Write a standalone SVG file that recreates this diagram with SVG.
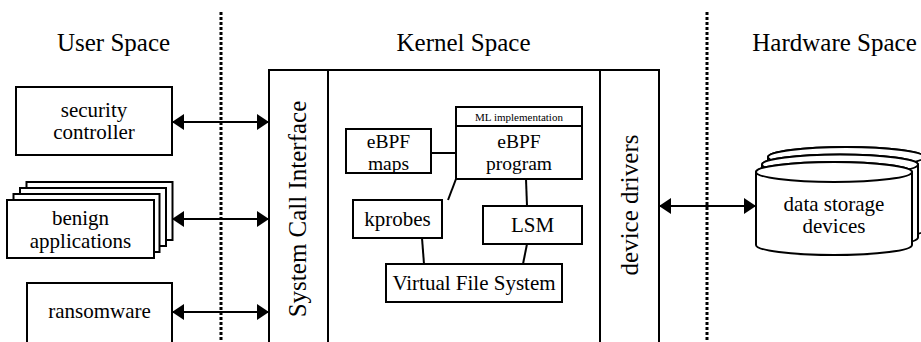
<svg xmlns="http://www.w3.org/2000/svg" width="921" height="342" viewBox="0 0 921 342">
<style>
  text { font-family: "Liberation Serif", "Tinos", "Times New Roman", "DejaVu Serif", serif; fill: #000; }
  .hdr { font-size: 25px; text-anchor: middle; }
  .lbl { font-size: 21px; text-anchor: middle; }
  .tight { font-size: 19.5px; text-anchor: middle; }
  .big { font-size: 25px; text-anchor: middle; }
  .small { font-size: 11px; text-anchor: middle; }
  .box { fill: #fff; stroke: #000; stroke-width: 2; }
  .dot { stroke: #000; stroke-width: 3; stroke-dasharray: 3 2; fill: none; }
  .conn { stroke: #000; stroke-width: 2; fill: none; }
</style>
<defs>
  <marker id="ah" markerWidth="12" markerHeight="16" refX="12" refY="8" orient="auto-start-reverse" markerUnits="userSpaceOnUse">
    <path d="M0,0 L12,8 L0,16 Z" fill="#000"/>
  </marker>
</defs>
<rect width="921" height="342" fill="#fff"/>

<g id="headers">
  <text class="hdr" x="113.5" y="51">User Space</text>
  <text class="hdr" x="463.5" y="51">Kernel Space</text>
  <text class="hdr" x="834.5" y="51">Hardware Space</text>
</g>

<g id="separators">
  <line class="dot" x1="221" y1="12" x2="221" y2="342"/>
  <line class="dot" x1="707" y1="12" x2="707" y2="342"/>
</g>

<g id="security-controller">
  <rect class="box" x="16" y="87" width="156" height="68"/>
  <text class="lbl" x="94" y="117">security</text>
  <text class="lbl" x="94" y="139">controller</text>
</g>

<g id="benign-applications">
  <rect class="box" x="26.5" y="182" width="146" height="58"/>
  <rect class="box" x="20" y="188" width="146" height="58"/>
  <rect class="box" x="13.5" y="194" width="146" height="58"/>
  <rect class="box" x="7" y="200" width="147" height="58"/>
  <text class="lbl" x="80.5" y="225">benign</text>
  <text class="lbl" x="80.5" y="248">applications</text>
</g>

<g id="ransomware">
  <rect class="box" x="27" y="283" width="145" height="70"/>
  <text class="lbl" x="99.5" y="318">ransomware</text>
</g>

<g id="kernel">
  <rect class="box" x="328" y="70" width="272" height="285"/>
</g>

<g id="system-call-interface">
  <rect class="box" x="269" y="70" width="59" height="285"/>
  <text class="big" transform="translate(306,209) rotate(-90)">System Call Interface</text>
</g>

<g id="device-drivers">
  <rect class="box" x="600" y="70" width="59" height="285"/>
  <text class="big" transform="translate(638,205) rotate(-90)">device drivers</text>
</g>

<g id="connectors">
  <line class="conn" x1="172" y1="122" x2="269" y2="122" marker-start="url(#ah)" marker-end="url(#ah)"/>
  <line class="conn" x1="172" y1="219" x2="269" y2="219" marker-start="url(#ah)" marker-end="url(#ah)"/>
  <line class="conn" x1="172" y1="312" x2="269" y2="312" marker-start="url(#ah)" marker-end="url(#ah)"/>
  <line class="conn" x1="659" y1="206" x2="756" y2="206" marker-start="url(#ah)" marker-end="url(#ah)"/>
  <line class="conn" x1="431" y1="153" x2="456" y2="153"/>
  <line class="conn" x1="456" y1="179" x2="448" y2="200"/>
  <line class="conn" x1="526" y1="179" x2="527" y2="206"/>
  <line class="conn" x1="422" y1="238" x2="424" y2="264"/>
  <line class="conn" x1="527" y1="244" x2="523" y2="264"/>
</g>

<g id="ebpf-program">
  <rect class="box" x="456" y="107" width="126" height="19"/>
  <text class="small" x="519" y="121">ML implementation</text>
  <rect class="box" x="456" y="126" width="126" height="53"/>
  <text class="tight" x="519" y="148">eBPF</text>
  <text class="tight" x="519" y="170">program</text>
</g>

<g id="ebpf-maps">
  <rect class="box" x="346" y="129" width="85" height="44"/>
  <text class="tight" x="388.5" y="148">eBPF</text>
  <text class="tight" x="388.5" y="170">maps</text>
</g>

<g id="kprobes">
  <rect class="box" x="353" y="200" width="89" height="38"/>
  <text class="lbl" x="397.5" y="226">kprobes</text>
</g>

<g id="lsm">
  <rect class="box" x="483" y="206" width="99" height="38"/>
  <text class="lbl" x="532.5" y="232">LSM</text>
</g>

<g id="vfs">
  <rect class="box" x="386" y="264" width="176" height="38"/>
  <text class="lbl" x="474" y="290">Virtual File System</text>
</g>

<g id="data-storage-devices">
  <g transform="translate(12,-15)">
    <path class="box" d="M756,172 A78,10 0 0 1 912,172 V245 A78,10 0 0 1 756,245 Z"/>
    <ellipse class="box" cx="834" cy="172" rx="78" ry="10"/>
  </g>
  <g transform="translate(6,-7.5)">
    <path class="box" d="M756,172 A78,10 0 0 1 912,172 V245 A78,10 0 0 1 756,245 Z"/>
    <ellipse class="box" cx="834" cy="172" rx="78" ry="10"/>
  </g>
  <path class="box" d="M756,172 A78,10 0 0 1 912,172 V245 A78,10 0 0 1 756,245 Z"/>
  <ellipse class="box" cx="834" cy="172" rx="78" ry="10"/>
  <text class="lbl" x="834" y="211">data storage</text>
  <text class="lbl" x="834" y="233">devices</text>
</g>
</svg>
